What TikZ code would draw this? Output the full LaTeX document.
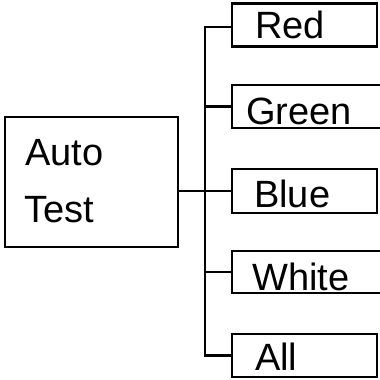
\documentclass[tikz,border=0pt]{standalone}
\usepackage{fontspec}
\setmainfont{Liberation Sans}
\begin{document}
\begin{tikzpicture}[x=1pt,y=-1pt,
  box/.style={draw, line width=2.4pt, rectangle, inner sep=0pt, minimum height=43pt},
  txt/.style={anchor=base west, inner sep=0pt, font=\fontsize{38}{38}\selectfont},
  wire/.style={line width=2.4pt}]
\useasboundingbox (0,0) rectangle (380,380);
\clip (0,0) rectangle (380,380);
% boxes
\node[box, minimum width=173pt, minimum height=130pt] (auto) at (91.5,182) {};
\node[box, minimum width=145pt] (red) at (304.5,25) {};
\node[box, minimum width=152pt] (green) at (308,106.5) {};
\node[box, minimum width=145pt, minimum height=44pt] (blue) at (304.5,191) {};
\node[box, minimum width=152pt, minimum height=42pt] (white) at (308,272) {};
\node[box, minimum width=145pt] (all) at (304.5,355.5) {};
% texts
\node[txt] (tauto) at (25,165) {Auto};
\node[txt] (ttest) at (24,222) {Test};
\node[txt] (tred) at (255,38) {Red};
\node[txt] (tgreen) at (246,124) {Green};
\node[txt] (tblue) at (254,207) {Blue};
\node[txt] (twhite) at (252,290) {White};
\node[txt] (tall) at (255,370) {All};
% connectors
\coordinate (out) at (178,191);
\coordinate (hub) at (205,191);
\coordinate (top) at (205,27);
\draw[wire] (out) -- (hub);
\draw[wire] (red.west |- top) -- (top) |- (all.west);
\draw[wire] (hub |- green.west) -- (green.west);
\draw[wire] (hub |- blue.west) -- (blue.west);
\draw[wire] (hub |- white.west) -- (white.west);
\end{tikzpicture}
\end{document}
